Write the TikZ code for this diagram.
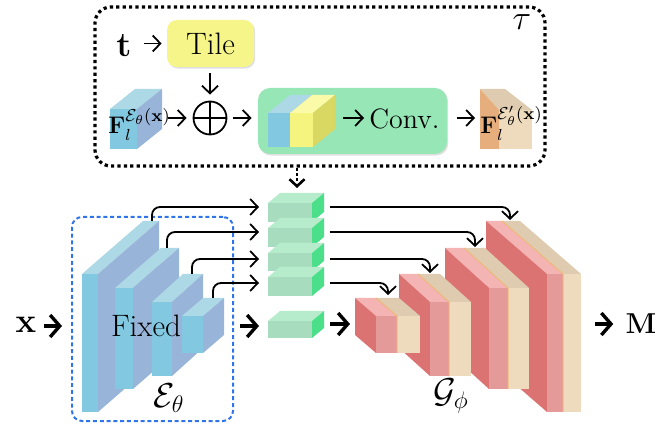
\documentclass[tikz,border=0pt]{standalone}
\usepackage{amsmath}
\usetikzlibrary{arrows.meta,shadows,calc}
\definecolor{encf}{HTML}{82C8E0}
\definecolor{enct}{HTML}{ADD8E6}
\definecolor{encs}{HTML}{98B4D8}
\definecolor{grf}{HTML}{A8DCBE}
\definecolor{grt}{HTML}{B6ECCB}
\definecolor{grs}{HTML}{4CDF8A}
\definecolor{pkf}{HTML}{E59A9A}
\definecolor{pkt}{HTML}{F4B4B4}
\definecolor{pks}{HTML}{DB7373}
\definecolor{crf}{HTML}{EEDBBD}
\definecolor{crt}{HTML}{DFCBAF}
\definecolor{seamcol}{HTML}{F0B878}
\definecolor{ylwf}{HTML}{F4F47E}
\definecolor{ylwt}{HTML}{FAFAA8}
\definecolor{ylws}{HTML}{D8D862}
\definecolor{orgs}{HTML}{E6AE7C}
\definecolor{tilefill}{HTML}{F5F58A}
\definecolor{convfill}{HTML}{96E6B6}
\definecolor{fixblue}{HTML}{2F74E8}
\newcommand\cubeR[8]{%
  \fill[#8t] (#2,#3) -- (#4,#3) -- ({#4+#6},{#3+#7}) -- ({#2+#6},{#3+#7}) -- cycle;
  \fill[#8s] (#4,#3) -- ({#4+#6},{#3+#7}) -- ({#4+#6},{#5+#7}) -- (#4,#5) -- cycle;
  \fill[#8f] (#2,#3) rectangle (#4,#5);
  \coordinate (#1) at ({(#2+#4)/2},{(#3+#5)/2});}
\newcommand\cubeL[8]{%
  \fill[#8t] (#2,#3) -- (#4,#3) -- ({#4+#6},{#3+#7}) -- ({#2+#6},{#3+#7}) -- cycle;
  \fill[#8s] (#2,#3) -- ({#2+#6},{#3+#7}) -- ({#2+#6},{#5+#7}) -- (#2,#5) -- cycle;
  \fill[#8f] (#2,#3) rectangle (#4,#5);
  \coordinate (#1) at ({(#2+#4)/2},{(#3+#5)/2});}
\newcommand\decblock[8]{%
  \fill[crt] (#3,#5) -- (#4,#5) -- ({#4+#7},{#5+#8}) -- ({#3+#7},{#5+#8}) -- cycle;
  \fill[crf] (#3,#5) rectangle (#4,#6);
  \cubeL{#1}{#2}{#5}{#3}{#6}{#7}{#8}{pk}
  \draw[seamcol, line width=0.5pt] ({#3+#7},{#5+#8}) -- (#3,#5) -- (#3,#6);}
\newcommand\bigsup[1]{\scalebox{1.08}{$\scriptstyle #1$}}
\tikzset{
  arrthin/.style={line width=0.9pt, -{Straight Barb[length=3.8pt,width=8pt]}},
  arrbig/.style={line width=1.7pt, -{Straight Barb[length=4.8pt,width=11pt]}},
  arrdot/.style={line width=1.3pt, dash pattern=on 1.3pt off 1.3pt, -{Straight Barb[length=3.5pt,width=7.5pt]}},
  dotbox/.style={draw, line width=1.6pt, dash pattern=on 1.6pt off 1.6pt, rounded corners=8pt, inner sep=0},
  fixbox/.style={draw=fixblue, line width=1pt, dash pattern=on 2pt off 1.4pt, rounded corners=5pt, inner sep=0},
  tilebox/.style={fill=tilefill, rounded corners=5pt, inner sep=0, drop shadow={shadow xshift=0.6pt, shadow yshift=-0.8pt, opacity=0.25}},
  convbox/.style={fill=convfill, rounded corners=6pt, inner sep=0, drop shadow={shadow xshift=0.6pt, shadow yshift=-0.8pt, opacity=0.25}},
  lbl/.style={inner sep=0},
}
\begin{document}
\begin{tikzpicture}[x=0.5pt,y=-0.5pt]
\useasboundingbox (0,0) rectangle (667,426);

% ---------- top box (tau) ----------
\node[dotbox, minimum width=225pt, minimum height=79.5pt] (taubox) at (320,86.5) {};
\node[lbl, font=\fontsize{17}{17}\selectfont] (taulbl) at (522,22) {$\tau$};
\node[lbl, font=\fontsize{16}{16}\selectfont] (tvar) at (124,46) {$\mathbf{t}$};
\node[tilebox, minimum width=43.5pt, minimum height=23.5pt, font=\fontsize{15.5}{15.5}\selectfont] (tile) at (210.5,43.5) {Tile};
\draw[arrthin, shorten <=6pt, shorten >=2.5pt] (tvar.east |- tile.west) -- (tile.west);
\node[circle, draw, line width=0.9pt, minimum size=16.5pt, inner sep=0] (plus) at (210,118) {};
\draw[line width=0.9pt] (plus.north) -- (plus.south) (plus.west) -- (plus.east);
\draw[arrthin, shorten <=3pt, shorten >=3pt] (tile.south -| plus.north) -- (plus.north);

\cubeR{fin}{110}{109}{137}{149}{25}{-20}{enc}
\node[lbl, anchor=base west, font=\fontsize{11.5}{11.5}\selectfont] (finlbl) at (108,134) {$\mathbf{F}_l^{\bigsup{\mathcal{E}_\theta(\mathbf{x})}}$};
\coordinate (finR) at (163,118);
\draw[arrthin, shorten <=2.5pt, shorten >=3pt] (finR) -- (plus.west);

\node[convbox, minimum width=94.5pt, minimum height=33pt] (conv) at (352.5,121) {};
\draw[arrthin, shorten <=3pt, shorten >=3pt] (plus.east) -- (conv.west |- plus.east);
\cubeR{cblue}{268}{113}{290}{147}{22}{-18}{enc}
\cubeR{cylw}{290}{113}{313}{147}{22}{-18}{ylw}
\coordinate (cylwR) at (335,118);
\node[lbl, anchor=west, font=\fontsize{14}{14}\selectfont] (convlbl) at (369,119) {Conv.};
\draw[arrthin, shorten <=4pt, shorten >=2.5pt] (cylwR) -- (convlbl.west |- cylwR);

\fill[crt] (480,89) -- (505,89) -- (532,110) -- (499,110) -- cycle;
\fill[orgs] (480,89) -- (499,110) -- (499,149) -- (480,149) -- cycle;
\fill[crf] (499,110) rectangle (532,149);
\coordinate (foutL) at (480,118);
\node[lbl, anchor=base west, font=\fontsize{11.5}{11.5}\selectfont] (foutlbl) at (480,134) {$\mathbf{F}_l^{\bigsup{\mathcal{E}'_\theta(\mathbf{x})}}$};
\draw[arrthin, shorten <=5pt, shorten >=2.5pt] (conv.east |- foutL) -- (foutL);

% ---------- encoder ----------
\cubeR{e1}{82}{274}{98}{412}{61}{-53}{enc}
\cubeR{e2}{115}{288}{133}{389}{46}{-40}{enc}
\cubeR{e3}{152}{302}{172}{376}{31}{-28}{enc}
\cubeR{e4}{182}{316}{203}{353}{21}{-18}{enc}
\node[fixbox, minimum width=80.5pt, minimum height=102pt] (fixbox) at (152.5,319) {};
\node[lbl, font=\fontsize{15.5}{15.5}\selectfont] (fixed) at (146,326) {Fixed};
\node[lbl, font=\fontsize{16.5}{16.5}\selectfont] (enclbl) at (169,398) {$\mathcal{E}_\theta$};

% ---------- bottleneck / skip features ----------
\cubeR{g1}{268}{203}{312}{222}{12}{-10}{gr}
\cubeR{g2}{268}{228}{312}{247}{12}{-10}{gr}
\cubeR{g3}{268}{253}{312}{271}{12}{-10}{gr}
\cubeR{g4}{268}{277}{312}{296}{12}{-10}{gr}
\cubeR{g5}{268}{321}{312}{338}{12}{-10}{gr}

\coordinate (e1s) at (152,221); \coordinate (g1in) at (259,207);
\coordinate (e2s) at (167,248); \coordinate (g2in) at (259,232);
\coordinate (e3s) at (192,274); \coordinate (g3in) at (259,259);
\coordinate (e4s) at (213,298); \coordinate (g4in) at (259,283);
\draw[arrthin, rounded corners=4pt] (e1s) |- (g1in);
\draw[arrthin, rounded corners=4pt] (e2s) |- (g2in);
\draw[arrthin, rounded corners=4pt] (e3s) |- (g3in);
\draw[arrthin, rounded corners=4pt] (e4s) |- (g4in);

\coordinate (tauout) at (297,168); \coordinate (g1top) at (297,188);
\draw[arrdot] (tauout) -- (g1top);

% ---------- decoder ----------
\decblock{d4}{547}{563}{581}{274}{412}{-61}{-53}
\decblock{d3}{489}{508}{529}{288}{389}{-44}{-40}
\decblock{d2}{430}{449}{471}{302}{376}{-31}{-28}
\decblock{d1}{376}{397}{420}{316}{353}{-21}{-18}
\node[lbl, font=\fontsize{16.5}{16.5}\selectfont] (declbl) at (451,396) {$\mathcal{G}_\phi$};

\coordinate (g1out) at (330,207); \coordinate (d4in) at (510,220);
\coordinate (g2out) at (330,232); \coordinate (d3in) at (475,247);
\coordinate (g3out) at (330,259); \coordinate (d2in) at (430,273);
\coordinate (g4out) at (330,283); \coordinate (d1in) at (388,295);
\draw[arrthin, rounded corners=4pt] (g1out) -| (d4in);
\draw[arrthin, rounded corners=4pt] (g2out) -| (d3in);
\draw[arrthin, rounded corners=4pt] (g3out) -| (d2in);
\draw[arrthin, rounded corners=4pt] (g4out) -| (d1in);

% ---------- main flow ----------
\node[lbl, font=\fontsize{16.5}{16.5}\selectfont] (xin) at (26,325) {$\mathbf{x}$};
\coordinate (encin) at (72,326);
\draw[arrbig, shorten <=3.5pt, shorten >=5pt] (xin.east |- encin) -- (encin);
\coordinate (encout) at (233,326); \coordinate (bnin) at (268,326);
\draw[arrbig, shorten <=3.5pt, shorten >=4.5pt] (encout) -- (bnin);
\coordinate (bnout) at (324,324); \coordinate (decin) at (355,324);
\draw[arrbig, shorten <=3pt, shorten >=2.5pt] (bnout) -- (decin);
\node[lbl, font=\fontsize{14}{14}\selectfont] (mout) at (641,324) {$\mathbf{M}$};
\coordinate (decout) at (581,324);
\draw[arrbig, shorten <=7pt, shorten >=6pt] (decout) -- (mout.west |- decout);
\end{tikzpicture}
\end{document}
